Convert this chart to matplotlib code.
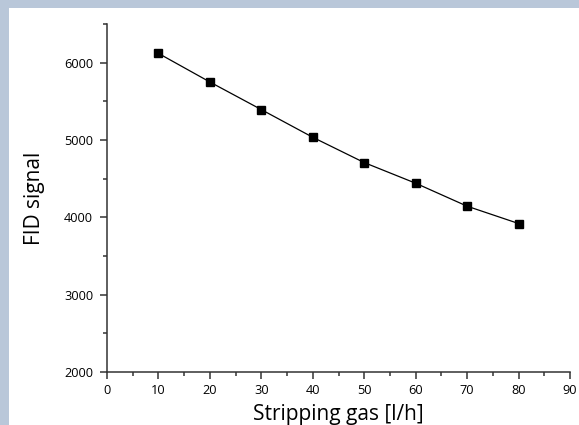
import matplotlib.pyplot as plt
from matplotlib.patches import Rectangle
from matplotlib.ticker import MultipleLocator

plt.rcParams['font.family'] = ['Open Sans', 'DejaVu Sans']

gas_flow = [10, 20, 30, 40, 50, 60, 70, 80]
fid_signal = [6120, 5750, 5393, 5035, 4708, 4441, 4144, 3920]

W, H = 579, 425
fig = plt.figure(figsize=(W / 100, H / 100), dpi=100, facecolor="#b9c7d9")
fig.patches.append(Rectangle((9 / W, 0), 1 - 9 / W, 1 - 8 / H,
                             transform=fig.transFigure, facecolor="white",
                             edgecolor="none", zorder=-10))

ax = fig.add_axes([107 / W, 1 - 372 / H, (570 - 107) / W, (372 - 24) / H])
ax.set_zorder(5)
ax.set_facecolor("none")
ax.plot(gas_flow, fid_signal, "-", color="black", lw=0.9,
        marker="s", ms=5.8, mfc="black", mec="black", clip_on=False)

ax.set_xlim(0, 90)
ax.set_ylim(2000, 6500)
ax.xaxis.set_major_locator(MultipleLocator(10))
ax.xaxis.set_minor_locator(MultipleLocator(5))
ax.yaxis.set_major_locator(MultipleLocator(1000))
ax.yaxis.set_minor_locator(MultipleLocator(500))

for side in ("top", "right"):
    ax.spines[side].set_visible(False)
for side in ("left", "bottom"):
    ax.spines[side].set_linewidth(1.1)
    ax.spines[side].set_color("#333333")

ax.tick_params(which="major", length=5, width=1.1, color="#333333",
               labelsize=9.2)
ax.tick_params(axis="y", which="major", pad=5)
ax.tick_params(axis="x", which="major", pad=4)
ax.tick_params(which="minor", length=3, width=1.1, color="#333333")

ax.set_xlabel("Stripping gas [l/h]", fontsize=15, labelpad=5)
ax.set_ylabel("FID signal", fontsize=15, labelpad=14)

fig.savefig("out.png", dpi=100, facecolor=fig.get_facecolor())
